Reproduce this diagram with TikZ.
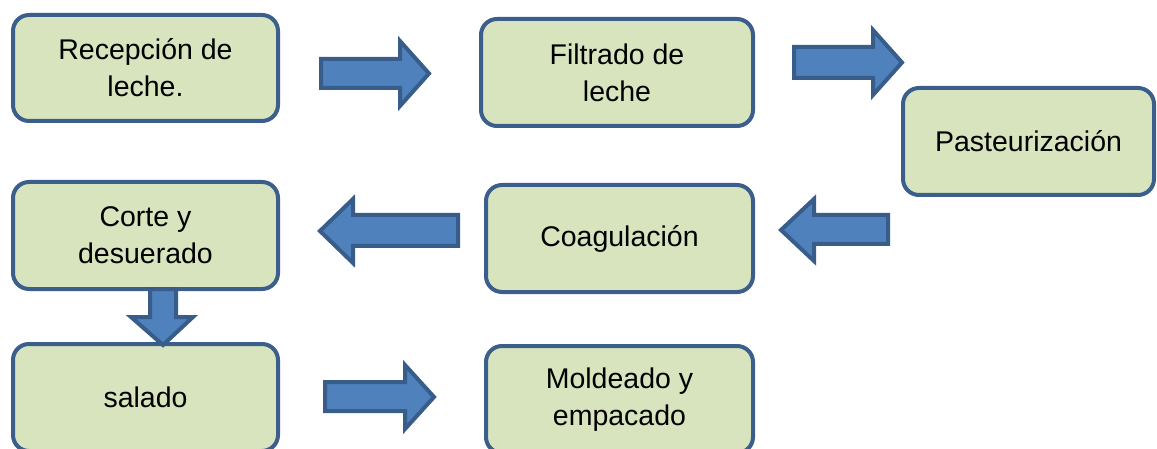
\documentclass[tikz,border=0pt]{standalone}
\usepackage{fontspec}
\setmainfont{Liberation Sans}
\definecolor{boxfill}{HTML}{D7E4BD}
\definecolor{boxline}{HTML}{3B5E8C}
\definecolor{arrfill}{HTML}{4F81BD}
\definecolor{arrline}{HTML}{385D8A}
\tikzset{
  stepbox/.style={draw=boxline, fill=boxfill, line width=4pt, rounded corners=16pt,
    align=center, inner sep=0pt, font=\fontsize{28.5}{37}\selectfont},
  blockarrow/.style={draw=arrline, fill=arrfill, line width=4pt, line join=miter}
}
\begin{document}
\begin{tikzpicture}[x=1pt,y=-1pt]
\useasboundingbox (0,0) rectangle (1157,449);
\clip (0,0) rectangle (1157,449);
% boxes
\node[stepbox, minimum width=265pt, minimum height=106pt] (b1) at (145.5,68) {Recepción de\\leche.};
\node[stepbox, minimum width=272pt, minimum height=107pt] (b2) at (617,72.5) {Filtrado de\\leche};
\node[stepbox, minimum width=251pt, minimum height=107pt] (b3) at (1028.5,141.5) {Pasteurización};
\node[stepbox, minimum width=265pt, minimum height=107pt] (b4) at (145.5,235.5) {Corte y\\desuerado};
\node[stepbox, minimum width=267pt, minimum height=107pt] (b5) at (619.5,238.5) {Coagulación};
\node[stepbox, minimum width=265pt, minimum height=107pt] (b6) at (145.5,397.5) {salado};
\node[stepbox, minimum width=267pt, minimum height=107pt] (b7) at (619.5,399.5) {Moldeado y\\empacado};
% block arrows
\draw[blockarrow] (321,59)--(400,59)--(400,41)--(429,73.5)--(400,106)--(400,88)--(321,88)--cycle;
\draw[blockarrow] (794,47)--(873,47)--(873,30)--(902,62.5)--(873,95)--(873,78)--(794,78)--cycle;
\draw[blockarrow] (888,215)--(814,215)--(814,199)--(781,230)--(814,261)--(814,244)--(888,244)--cycle;
\draw[blockarrow] (458,215)--(353,215)--(353,199)--(320,231)--(353,263)--(353,246)--(458,246)--cycle;
\draw[blockarrow] (150,289)--(176,289)--(176,317)--(193,317)--(163,345)--(131,317)--(150,317)--cycle;
\draw[blockarrow] (325,382)--(405,382)--(405,365)--(434,397)--(405,429)--(405,411)--(325,411)--cycle;
\end{tikzpicture}
\end{document}
